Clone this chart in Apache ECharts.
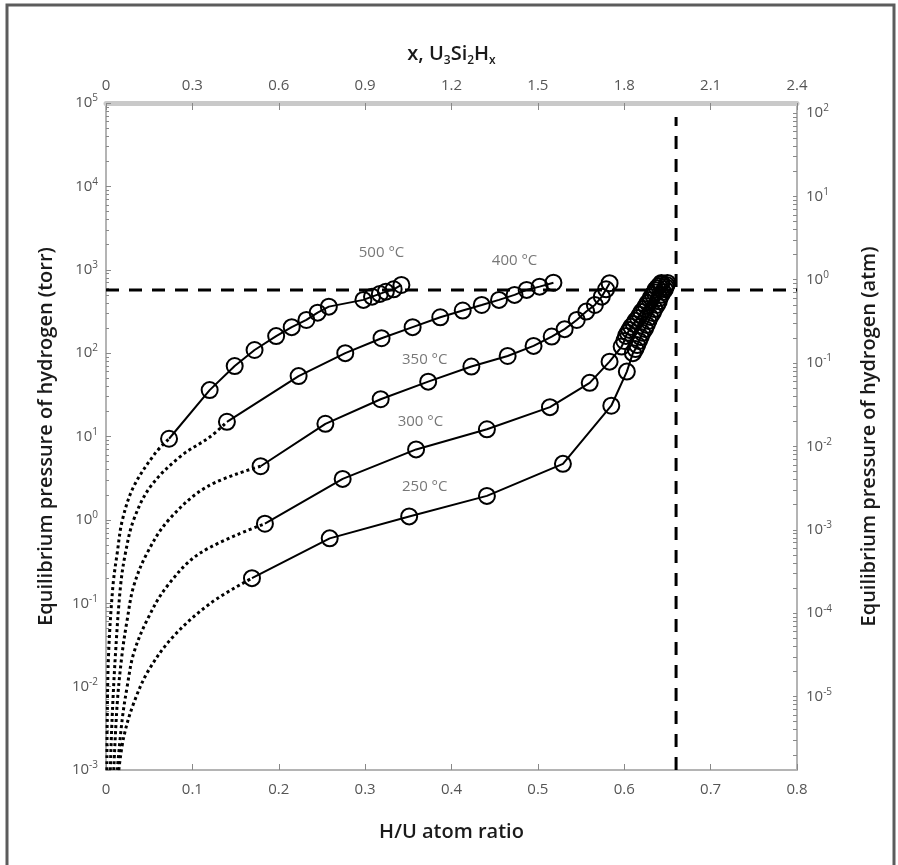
<!doctype html>
<html>
<head>
<meta charset="utf-8">
<title>U3Si2Hx equilibrium pressure</title>
<script src="https://cdn.jsdelivr.net/npm/echarts@6/dist/echarts.min.js"></script>
<style>
html, body { margin: 0; padding: 0; background: #fff; }
#main { width: 898px; height: 865px; }
</style>
</head>
<body>
<div id="main"></div>
<script>
// measured points, H/U ratio vs pressure (torr)
var hu500 = [0.073, 0.120, 0.149, 0.172, 0.197, 0.215, 0.232, 0.245, 0.258, 0.298, 0.308, 0.317, 0.324, 0.333, 0.342];
var torr500 = [9.4, 36, 70, 109, 160, 205, 250, 306, 361, 435, 476, 513, 546, 583, 657];

var hu400 = [0.140, 0.223, 0.277, 0.319, 0.355, 0.387, 0.413, 0.435, 0.455, 0.473, 0.487, 0.502, 0.518];
var torr400 = [15, 53, 100, 151, 205, 269, 324, 378, 435, 499, 573, 627, 700];

var hu350 = [0.179, 0.254, 0.318, 0.373, 0.423, 0.465, 0.495, 0.516, 0.531, 0.545, 0.556, 0.566, 0.574, 0.579, 0.583];
var torr350 = [4.4, 14.2, 28, 45.5, 69, 92.5, 122, 158, 194, 250, 315, 378, 476, 583, 689];

var hu300 = [0.184, 0.274, 0.359, 0.441, 0.514, 0.560, 0.583, 0.597, 0.600, 0.602, 0.604, 0.606, 0.608, 0.611, 0.613,
    0.616, 0.618, 0.620, 0.623, 0.625, 0.627, 0.630, 0.631, 0.633, 0.635, 0.636, 0.638, 0.640, 0.642, 0.643];
var torr300 = [0.9, 3.1, 7.0, 12.2, 22.5, 44, 79, 120, 140, 161, 175, 190, 207, 224, 244,
    264, 288, 312, 339, 368, 400, 435, 467, 499, 536, 573, 606, 640, 668, 695];

var hu250 = [0.169, 0.259, 0.351, 0.441, 0.529, 0.585, 0.603, 0.610, 0.613, 0.615, 0.617, 0.619, 0.621, 0.624, 0.626,
    0.628, 0.630, 0.633, 0.635, 0.638, 0.640, 0.641, 0.643, 0.645, 0.647, 0.648, 0.649, 0.650];
var torr250 = [0.2, 0.6, 1.1, 1.94, 4.7, 23.4, 60, 100, 112, 125, 140, 156, 175, 195, 218,
    243, 272, 303, 338, 378, 418, 459, 500, 542, 582, 622, 658, 695];

// dotted low-pressure branches
var dotHu500 = [0.001, 0.0014, 0.003, 0.008, 0.013, 0.019, 0.032, 0.057, 0.073];
var dotTorr500 = [0.001, 0.004, 0.025, 0.16, 0.4, 1.0, 2.5, 6.3, 9.4];
var dotHu400 = [0.005, 0.007, 0.011, 0.0168, 0.0225, 0.032, 0.0514, 0.086, 0.121, 0.140];
var dotTorr400 = [0.001, 0.004, 0.025, 0.16, 0.4, 1, 2.5, 5.75, 10, 15];
var dotHu350 = [0.009, 0.013, 0.0187, 0.0245, 0.032, 0.0476, 0.0726, 0.117, 0.179];
var dotTorr350 = [0.001, 0.0063, 0.025, 0.063, 0.16, 0.4, 1, 2.5, 4.4];
var dotHu300 = [0.013, 0.0187, 0.0245, 0.032, 0.0476, 0.0707, 0.109, 0.184];
var dotTorr300 = [0.001, 0.004, 0.01, 0.025, 0.063, 0.16, 0.4, 0.9];
var dotHu250 = [0.0148, 0.0206, 0.032, 0.0495, 0.078, 0.121, 0.169];
var dotTorr250 = [0.001, 0.0025, 0.0063, 0.0158, 0.04, 0.1, 0.2];

// dashed reference lines
var hLineHu = [0, 0.8];
var hLineTorr = [570, 570];
var vLineHu = [0.66, 0.66];
var vLineTorr = [0.001, 68000];

// temperature labels
var tempNames = ['500 °C', '400 °C', '350 °C', '300 °C', '250 °C'];
var tempHu = [0.319, 0.473, 0.369, 0.364, 0.369];
var tempTorr = [1580, 1285, 83, 15, 2.5];

// right axis (atm) decades
var atmExp = [-5, -4, -3, -2, -1, 0, 1, 2];
var TORR_PER_ATM = 760;

function zip(xs, ys) {
    var out = [];
    for (var i = 0; i < xs.length; i++) out.push([xs[i], ys[i]]);
    return out;
}

var lg760 = Math.log10(TORR_PER_ATM);
var atmLabelVals = atmExp.map(function (e) { return lg760 + e; });
var atmTickVals = [];
for (var e = -6; e <= 2; e++) {
    for (var k = 1; k <= 9; k++) {
        var v = Math.log10(TORR_PER_ATM * k) + e;
        if (v >= -3 && v <= 5) atmTickVals.push(v);
    }
}
var torrMinorVals = [];
for (var e2 = -3; e2 <= 4; e2++) {
    for (var k2 = 2; k2 <= 9; k2++) torrMinorVals.push(Math.log10(k2) + e2);
}

var FONT = "'Liberation Sans Narrow', 'Open Sans', sans-serif";
var TITLE_FONT = "'Open Sans', sans-serif";
var axisGray = '#b4b4b4';
var labelGray = '#555';
var titleColor = '#1a1a1a';

var supRich = {
    b: { fontSize: 15, lineHeight: 19, color: labelGray, fontFamily: FONT },
    sup: { fontSize: 10, lineHeight: 10, verticalAlign: 'top', color: labelGray, fontFamily: FONT }
};

function solid(hu, torr) {
    return {
        type: 'line', data: zip(hu, torr),
        symbol: 'circle', symbolSize: 16,
        itemStyle: { color: 'rgba(0,0,0,0)', borderColor: '#000', borderWidth: 2 },
        lineStyle: { color: '#000', width: 2 },
        z: 5
    };
}
function dotted(hu, torr) {
    return {
        type: 'line', data: zip(hu, torr), smooth: 0.35,
        showSymbol: false, symbol: 'none',
        lineStyle: { color: '#000', width: 3, type: [3, 3] },
        z: 4
    };
}
function dashed(hu, torr) {
    return {
        type: 'line', data: zip(hu, torr), symbol: 'none',
        lineStyle: { color: '#000', width: 3, type: [13, 10] },
        z: 3
    };
}

var chart = echarts.init(document.getElementById('main'));

var labelData = tempNames.map(function (n, i) { return { name: n, value: [tempHu[i], tempTorr[i]] }; });

var option = {
    animation: false,
    backgroundColor: '#fff',
    grid: { left: 106, right: 101, top: 103, bottom: 95, containLabel: false },
    graphic: [{
        type: 'rect',
        shape: { x: 7, y: 5, width: 887, height: 920 },
        style: { fill: 'none', stroke: '#5c5c5c', lineWidth: 3 },
        z: 100
    }],
    xAxis: [{
        type: 'value', position: 'bottom', min: 0, max: 0.8, interval: 0.1,
        name: 'H/U atom ratio', nameLocation: 'middle', nameGap: 52,
        nameTextStyle: { fontSize: 20, fontWeight: 600, color: titleColor, fontFamily: TITLE_FONT },
        axisLine: { onZero: false, lineStyle: { color: axisGray, width: 2 } },
        axisTick: { inside: true, length: 6, lineStyle: { color: '#888' } },
        axisLabel: { margin: 12, fontSize: 15, color: labelGray, fontFamily: FONT },
        splitLine: { show: false }
    }, {
        type: 'value', position: 'top', min: 0, max: 2.4, interval: 0.3,
        name: 'x, U{sub|3}Si{sub|2}H{sub|x}', nameLocation: 'middle', nameGap: 36,
        nameTextStyle: {
            fontSize: 20, fontWeight: 600, color: titleColor, fontFamily: TITLE_FONT, lineHeight: 26,
            rich: {
                sub: { fontSize: 12, fontWeight: 600, lineHeight: 12, verticalAlign: 'bottom', color: titleColor, fontFamily: TITLE_FONT }
            }
        },
        axisLine: { onZero: false, lineStyle: { color: '#c9c9c9', width: 5 } },
        axisTick: { inside: true, length: 7, lineStyle: { color: '#888' } },
        axisLabel: { margin: 10, fontSize: 15, color: labelGray, fontFamily: FONT },
        splitLine: { show: false }
    }],
    yAxis: [{
        type: 'log', logBase: 10, position: 'left', min: 0.001, max: 100000,
        name: 'Equilibrium pressure of hydrogen (torr)', nameLocation: 'middle', nameGap: 50,
        nameTextStyle: { fontSize: 20, fontWeight: 600, color: titleColor, fontFamily: TITLE_FONT },
        axisLine: { show: true, onZero: false, lineStyle: { color: axisGray, width: 2 } },
        axisTick: { inside: true, length: 5, lineStyle: { color: '#888' } },
        axisLabel: {
            margin: 8, color: labelGray,
            formatter: function (v) { return '{b|10}{sup|' + Math.round(Math.log10(v)) + '}'; },
            rich: supRich
        },
        splitLine: { show: false }
    }, {
        type: 'value', position: 'right', min: -3, max: 5,
        name: 'Equilibrium pressure of hydrogen (atm)', nameLocation: 'middle', nameGap: 62,
        nameTextStyle: { fontSize: 20, fontWeight: 600, color: titleColor, fontFamily: TITLE_FONT },
        axisLine: { show: true, onZero: false, lineStyle: { color: axisGray, width: 2 } },
        axisTick: { show: true, inside: true, length: 4, customValues: atmTickVals, lineStyle: { color: '#888' } },
        axisLabel: {
            margin: 9, color: labelGray, customValues: atmLabelVals,
            formatter: function (v) { return '{b|10}{sup|' + Math.round(v - lg760) + '}'; },
            rich: supRich
        },
        splitLine: { show: false }
    }, {
        type: 'value', position: 'left', min: -3, max: 5,
        axisLine: { show: false, onZero: false },
        axisTick: { show: true, inside: true, length: 3, customValues: torrMinorVals, lineStyle: { color: '#888' } },
        axisLabel: { show: false },
        splitLine: { show: false }
    }],
    series: [
        dashed(hLineHu, hLineTorr),
        dashed(vLineHu, vLineTorr),
        dotted(dotHu500, dotTorr500),
        dotted(dotHu400, dotTorr400),
        dotted(dotHu350, dotTorr350),
        dotted(dotHu300, dotTorr300),
        dotted(dotHu250, dotTorr250),
        solid(hu500, torr500),
        solid(hu400, torr400),
        solid(hu350, torr350),
        solid(hu300, torr300),
        solid(hu250, torr250),
        {
            type: 'scatter', data: labelData, symbolSize: 0,
            label: {
                show: true, position: 'inside', formatter: '{b}',
                fontSize: 15, color: labelGray, fontFamily: FONT
            },
            z: 6
        }
    ]
};
chart.setOption(option);
</script>
</body>
</html>
